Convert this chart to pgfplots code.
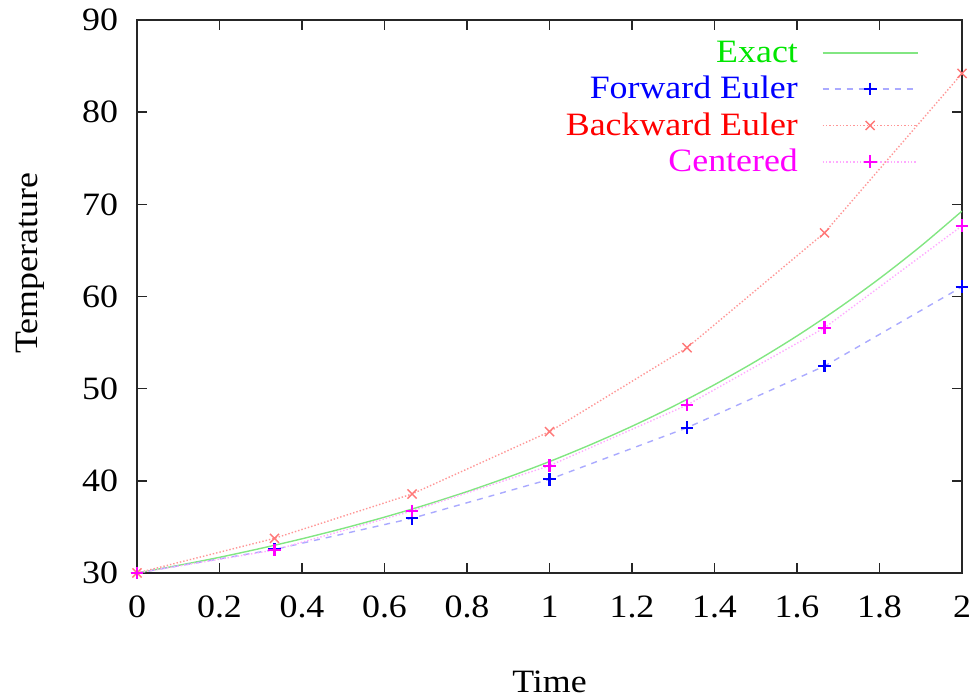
\documentclass[border=0pt]{standalone}
\usepackage{fontspec}
\setmainfont{Liberation Serif}[FakeStretch=1.1]
\usepackage{pgfplots}
\pgfplotsset{compat=1.18}
\usetikzlibrary{calc}

\definecolor{exactline}{RGB}{130,230,130}
\definecolor{fwdline}{RGB}{170,170,255}
\definecolor{bwdline}{RGB}{255,150,150}
\definecolor{bwdmark}{RGB}{255,120,120}
\definecolor{cenline}{RGB}{255,170,255}
\definecolor{pmag}{RGB}{255,0,255}
\definecolor{pgreen}{RGB}{0,230,0}
\definecolor{pblue}{RGB}{0,0,255}
\definecolor{pred}{RGB}{255,0,0}

\newcommand{\fs}{\fontsize{16.3}{19}\selectfont}

\begin{document}
\begin{tikzpicture}
\begin{axis}[
  scale only axis,
  width=412.5pt, height=276.5pt,
  xmin=0, xmax=2, ymin=30, ymax=90,
  xtick={0,0.2,...,2.01}, ytick={30,40,...,90},
  tick align=inside,
  major tick length=5pt,
  axis line style={line width=0.8pt, black!85},
  every tick/.style={black!85, line width=0.8pt},
  /pgf/number format/assume math mode=true,
  tick label style={font=\fs},
  xticklabel style={yshift=-8pt},
  yticklabel style={xshift=-6pt},
  xlabel={Time}, ylabel={Temperature},
  label style={font=\fs},
  xlabel style={at={(axis description cs:0.5,-0.197)}, anchor=center},
  ylabel style={at={(axis description cs:-0.129,0.56)}, anchor=center},
  legend plot pos=right,
  legend cell align=right,
  legend style={draw=none, fill=none, font=\fs,
    at={(axis description cs:0.955,0.977)}, anchor=north east,
    row sep=1.4pt,
    /tikz/every odd column/.append style={column sep=10pt}},
  legend image code/.code={\draw[mark repeat=2,mark phase=2,#1]
    plot coordinates {(0pt,0pt) (23.75pt,0pt) (47.5pt,0pt)};},
]
% exact solution
\addplot[exactline, line width=0.7pt, no marks, smooth,
  legend image code/.code={\draw[exactline, line width=0.8pt] (0pt,0pt) -- (47.5pt,0pt);}]
  coordinates {
  (0.0,30.00)(0.1,30.82)(0.2,31.70)(0.3,32.67)(0.4,33.71)(0.5,34.84)
  (0.6,36.06)(0.7,37.39)(0.8,38.83)(0.9,40.40)(1.0,42.09)(1.1,43.93)
  (1.2,45.92)(1.3,48.08)(1.4,50.43)(1.5,52.97)(1.6,55.72)(1.7,58.71)
  (1.8,61.95)(1.9,65.46)(2.0,69.27)};
\addlegendentry{\textcolor{pgreen}{Exact}}
% forward Euler
\addplot[fwdline, line width=0.7pt, dashed, mark=+, mark size=3.2pt,
  mark options={solid, draw=pblue, line width=1.1pt}] coordinates {
  (0,30)(0.3333,32.55)(0.6667,35.93)(1,40.16)(1.3333,45.76)(1.6667,52.45)(2,61.05)};
\addlegendentry{\textcolor{pblue}{Forward Euler}}
% backward Euler
\addplot[bwdline, line width=0.7pt, densely dotted, mark=x, mark size=3.2pt,
  mark options={solid, draw=bwdmark, line width=0.7pt}] coordinates {
  (0,30)(0.3333,33.76)(0.6667,38.57)(1,45.33)(1.3333,54.44)(1.6667,66.91)(2,84.2)};
\addlegendentry{\textcolor{pred}{Backward Euler}}
% centered
\addplot[cenline, line width=0.7pt, densely dotted, mark=+, mark size=3.2pt,
  mark options={solid, draw=pmag, line width=1.1pt}] coordinates {
  (0,30)(0.3333,32.49)(0.6667,36.72)(1,41.64)(1.3333,48.22)(1.6667,56.6)(2,67.67)};
\addlegendentry{\textcolor{pmag}{Centered}}
\end{axis}
\pgfresetboundingbox
\path ($(current axis.south west)+(-68.5pt,-62.5pt)$) rectangle ($(current axis.north east)+(3.5pt,10pt)$);
\end{tikzpicture}
\end{document}
